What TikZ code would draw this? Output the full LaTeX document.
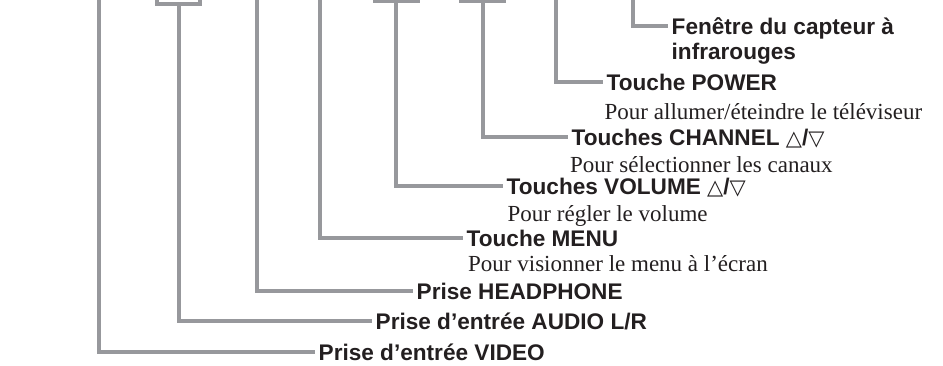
\documentclass[tikz,border=0pt]{standalone}
\usepackage{fontspec}
\setmainfont{Liberation Serif}
\setsansfont{Liberation Sans}
\newfontfamily\symfnt{DejaVu Sans}
\definecolor{ln}{RGB}{151,152,156}
\definecolor{ink}{RGB}{35,31,32}
\newcommand{\updn}{{\symfnt\mdseries\fontsize{21}{21}\selectfont △}/{\symfnt\mdseries\fontsize{21}{21}\selectfont ▽}}
\tikzset{
  conn/.style={draw=ln, line width=4pt},
  lbl/.style={font=\sffamily\bfseries\fontsize{22.6}{26}\selectfont, text=ink, anchor=west,
    inner xsep=3.5pt, inner ysep=0pt, text height=16pt, text depth=0pt},
  desc/.style={font=\fontsize{23}{27}\selectfont, text=ink, anchor=base west, inner sep=0pt},
  topbox/.style={draw=ln, line width=4pt, rectangle, minimum width=43pt, minimum height=40pt,
    anchor=south, inner sep=0pt}
}
\begin{document}
\begin{tikzpicture}[x=1pt, y=-1pt]
\useasboundingbox (0,0) rectangle (943,365);
\clip (0,0) rectangle (943,365);
% top ends
\coordinate (tvid) at (99,-5);
\coordinate (thp) at (257,-5);
\coordinate (tmenu) at (320,-5);
\coordinate (tpow) at (556,-5);
\coordinate (tir) at (633,-5);
\node[topbox] (baud) at (178.5,6) {};
\node[topbox] (bvol) at (396,3) {};
\node[topbox] (bch) at (482.5,3) {};
% labels
\node[lbl] (ir) at (668,26) {Fenêtre du capteur à};
\node[desc] (ir2) at (671.5,59) {\sffamily\bfseries\fontsize{22.6}{26}\selectfont infrarouges};
\node[lbl] (pow) at (603,82) {Touche POWER};
\node[desc] (powd) at (604.5,119) {Pour allumer/éteindre le téléviseur};
\node[lbl] (ch) at (568,137) {Touches CHANNEL \updn};
\node[desc] (chd) at (570,172) {Pour sélectionner les canaux};
\node[lbl] (vol) at (503,186) {Touches VOLUME \updn};
\node[desc] (vold) at (507.5,221) {Pour régler le volume};
\node[lbl] (menu) at (463,238) {Touche MENU};
\node[desc] (menud) at (468,271) {Pour visionner le menu à l’écran};
\node[lbl] (hp) at (413,291) {Prise HEADPHONE};
\node[lbl] (aud) at (372,321) {Prise d’entrée AUDIO L/R};
\node[lbl] (vid) at (315,352) {Prise d’entrée VIDEO};
% connectors
\draw[conn] (tir) |- (ir.west);
\draw[conn] (tpow) |- (pow.west);
\draw[conn] (bch.south) |- (ch.west);
\draw[conn] (bvol.south) |- (vol.west);
\draw[conn] (tmenu) |- (menu.west);
\draw[conn] (thp) |- (hp.west);
\draw[conn] (baud.south) |- (aud.west);
\draw[conn] (tvid) |- (vid.west);
\end{tikzpicture}
\end{document}
